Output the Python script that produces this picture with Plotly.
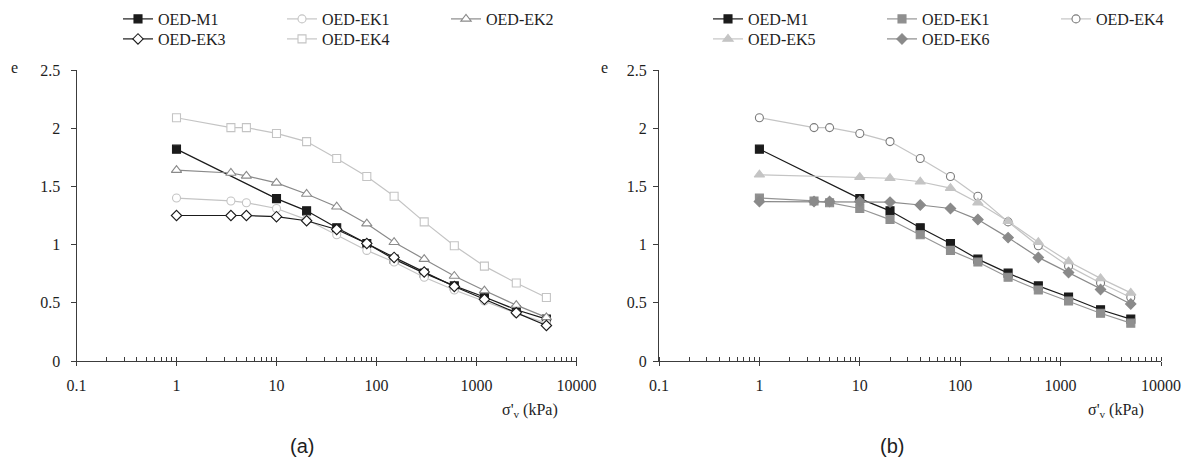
import plotly.graph_objects as go

# Applied vertical stress steps (kPa)
stress_full = [1, 3.5, 5, 10, 20, 40, 80, 150, 300, 600, 1200, 2500, 5000]
stress_m1 = [1, 10, 20, 40, 80, 150, 300, 600, 1200, 2500, 5000]

# Void ratio e for each oedometer test
e_m1 = [1.82, 1.395, 1.29, 1.145, 1.01, 0.875, 0.755, 0.645, 0.55, 0.44, 0.36]
e_ek1 = [1.40, 1.375, 1.36, 1.31, 1.215, 1.085, 0.95, 0.85, 0.72, 0.61, 0.515, 0.41, 0.325]
e_ek2 = [1.64, 1.615, 1.59, 1.53, 1.435, 1.325, 1.18, 1.02, 0.875, 0.73, 0.605, 0.48, 0.375]
e_ek3 = [1.25, 1.25, 1.25, 1.24, 1.205, 1.13, 1.01, 0.89, 0.765, 0.64, 0.53, 0.415, 0.305]
e_ek4 = [2.09, 2.005, 2.005, 1.955, 1.885, 1.74, 1.585, 1.415, 1.195, 0.99, 0.815, 0.67, 0.545]
e_ek5 = [1.60, 1.58, 1.57, 1.54, 1.485, 1.36, 1.20, 1.02, 0.855, 0.71, 0.585]
e_ek6 = [1.37, 1.37, 1.37, 1.37, 1.365, 1.34, 1.31, 1.215, 1.06, 0.89, 0.76, 0.615, 0.49]

x_ticks = [0.1, 1, 10, 100, 1000, 10000]
x_tick_text = ["0.1", "1", "10", "100", "1000", "10000"]
y_ticks = [0, 0.5, 1, 1.5, 2, 2.5]
y_tick_text = ["0", "0.5", "1", "1.5", "2", "2.5"]

BLACK = "#1b1b1b"
DARK = "#8a8a8a"
LIGHT = "#c4c4c4"
SERIF = "Times New Roman, Liberation Serif, DejaVu Serif, serif"
SANS = "Arial, Liberation Sans, sans-serif"
TEXT = "#1e1e1e"
W, H = 1191, 462

fig = go.Figure()


def add(name, x, y, xa, ya, legend, line_color, symbol, fill, edge, size):
    fig.add_trace(go.Scatter(
        x=x, y=y, name=name, mode="lines+markers",
        xaxis=xa, yaxis=ya, legend=legend,
        line=dict(color=line_color, width=1.2),
        marker=dict(symbol=symbol, size=size, color=fill,
                    line=dict(color=edge, width=1.1)),
    ))


# Panel (a)
add("OED-M1", stress_m1, e_m1, "x", "y", "legend", BLACK, "square", BLACK, BLACK, 8)
add("OED-EK1", stress_full, e_ek1, "x", "y", "legend", LIGHT, "circle", "white", LIGHT, 8)
add("OED-EK2", stress_full, e_ek2, "x", "y", "legend", DARK, "triangle-up", "white", DARK, 9)
add("OED-EK3", stress_full, e_ek3, "x", "y", "legend2", BLACK, "diamond", "white", BLACK, 8)
add("OED-EK4", stress_full, e_ek4, "x", "y", "legend2", LIGHT, "square", "white", LIGHT, 8)

# Panel (b)
add("OED-M1", stress_m1, e_m1, "x2", "y2", "legend3", BLACK, "square", BLACK, BLACK, 8)
add("OED-EK1", stress_full, e_ek1, "x2", "y2", "legend3", "#959595", "square", "#8f8f8f", "#8f8f8f", 8)
add("OED-EK4", stress_full, e_ek4, "x2", "y2", "legend3", LIGHT, "circle", "white", "#7a7a7a", 8)
add("OED-EK5", stress_m1, e_ek5, "x2", "y2", "legend4", LIGHT, "triangle-up", LIGHT, LIGHT, 9)
add("OED-EK6", stress_full, e_ek6, "x2", "y2", "legend4", DARK, "diamond", DARK, DARK, 8)

ydom = [(H - 361) / H, (H - 70) / H]
xdom_a = [76.5 / W, 576.5 / W]
xdom_b = [659 / W, 1161 / W]

axis_col = "#3c3c3c"
tick_font = dict(family=SERIF, size=16, color=TEXT)


def xaxis(dom, anchor):
    return dict(
        domain=dom, anchor=anchor, type="log", range=[-1, 4],
        tickvals=x_ticks, ticktext=x_tick_text, tickfont=tick_font,
        ticks="outside", ticklen=4, tickwidth=1, tickcolor=axis_col,
        showline=True, linecolor=axis_col, linewidth=1,
        showgrid=False, zeroline=False, ticklabelstandoff=6,
        minor=dict(ticks="inside", ticklen=4, tickwidth=1, tickcolor=axis_col,
                   dtick="D1", showgrid=False),
    )


def xcross(over):
    # inner half of the major ticks, so they cross the axis line
    return dict(
        overlaying=over, type="log", range=[-1, 4], tickvals=x_ticks,
        ticks="inside", ticklen=4, tickwidth=1, tickcolor=axis_col,
        showticklabels=False, showline=False, showgrid=False, zeroline=False,
    )


def yaxis(anchor, standoff):
    return dict(
        domain=ydom, anchor=anchor, range=[0, 2.5],
        tickvals=y_ticks, ticktext=y_tick_text, tickfont=tick_font,
        ticks="outside", ticklen=5, tickwidth=1, tickcolor=axis_col,
        showline=True, linecolor=axis_col, linewidth=1,
        showgrid=False, zeroline=False, ticklabelstandoff=standoff,
    )


def legend_box(x_px, y_px, width):
    return dict(
        orientation="h", x=x_px / W, y=1 - y_px / H, xanchor="left", yanchor="top",
        entrywidth=width, entrywidthmode="pixels",
        font=dict(family=SERIF, size=16, color=TEXT),
        bgcolor="rgba(0,0,0,0)", borderwidth=0, itemclick=False,
        tracegroupgap=0,
    )


def note(text, x_px, y_px, font, xanchor="center"):
    return dict(text=text, x=x_px / W, y=1 - y_px / H, xref="paper", yref="paper",
                xanchor=xanchor, yanchor="middle", showarrow=False, font=font)


label_font = dict(family=SERIF, size=16, color=TEXT)
panel_font = dict(family=SANS, size=20, color=TEXT)

annotations = [
    note("e", 14, 67, label_font),
    note("e", 604, 67, label_font),
    note("σ'<sub>v</sub> (kPa)", 560, 410, label_font, "right"),
    note("σ'<sub>v</sub> (kPa)", 1146, 410, label_font, "right"),
    note("(a)", 302, 446, panel_font),
    note("(b)", 892, 446, panel_font),
]

fig.update_layout(
    width=W, height=H,
    margin=dict(l=0, r=0, t=0, b=0, autoexpand=False),
    paper_bgcolor="white", plot_bgcolor="white",
    font=dict(family=SERIF, size=16, color=TEXT),
    xaxis=xaxis(xdom_a, "y"), yaxis=yaxis("x", 7),
    xaxis2=xaxis(xdom_b, "y2"), yaxis2=yaxis("x2", 3),
    xaxis3=xcross("x"), xaxis4=xcross("x2"),
    legend=legend_box(118, 2, 119),
    legend2=legend_box(118, 22, 119),
    legend3=legend_box(708, 2, 129),
    legend4=legend_box(708, 22, 129),
    annotations=annotations,
    showlegend=True,
)

fig.write_html("out.html")
